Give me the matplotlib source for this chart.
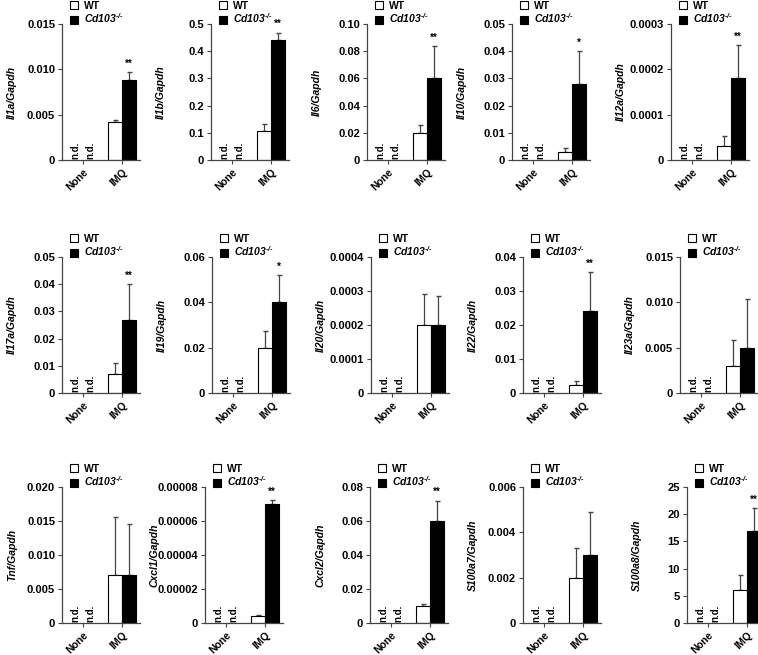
import numpy as np
import matplotlib.pyplot as plt
from matplotlib.patches import Patch

plt.rcParams['font.family'] = ['Liberation Sans', 'DejaVu Sans']
plt.rcParams['font.weight'] = 'bold'
plt.rcParams['mathtext.fontset'] = 'custom'
plt.rcParams['mathtext.it'] = 'Liberation Sans:italic:bold'
plt.rcParams['mathtext.rm'] = 'Liberation Sans:italic:bold'

# ----------------------------------------------------------------------
# data; None group is n.d. everywhere
# ----------------------------------------------------------------------

GENES = ['Il1a', 'Il1b', 'Il6', 'Il10', 'Il12a',
         'Il17a', 'Il19', 'Il20', 'Il22', 'Il23a',
         'Tnf', 'Cxcl1', 'Cxcl2', 'S100a7', 'S100a8']
GROUPS = ['None', 'IMQ']

WT_MEAN = [0.0042, 0.105, 0.020, 0.003, 0.00003,
           0.007, 0.020, 0.0002, 0.0025, 0.003,
           0.007, 0.000004, 0.010, 0.002, 6.0]
WT_ERR = [0.0002, 0.027, 0.006, 0.0015, 0.000023,
          0.004, 0.0075, 0.00009, 0.001, 0.0028,
          0.0086, 0.0000005, 0.001, 0.0013, 2.9]
KO_MEAN = [0.0088, 0.443, 0.060, 0.028, 0.00018,
           0.027, 0.040, 0.0002, 0.024, 0.005,
           0.007, 0.000070, 0.060, 0.003, 17.0]
KO_ERR = [0.0009, 0.025, 0.024, 0.012, 0.000073,
          0.013, 0.012, 0.000085, 0.0115, 0.0054,
          0.0076, 0.0000025, 0.012, 0.0019, 4.1]
STARS = ['**', '**', '**', '*', '**',
         '**', '*', '', '**', '',
         '', '**', '**', '', '**']

YTICKS = [
    ['0', '0.005', '0.010', '0.015'],
    ['0', '0.1', '0.2', '0.3', '0.4', '0.5'],
    ['0', '0.02', '0.04', '0.06', '0.08', '0.10'],
    ['0', '0.01', '0.02', '0.03', '0.04', '0.05'],
    ['0', '0.0001', '0.0002', '0.0003'],
    ['0', '0.01', '0.02', '0.03', '0.04', '0.05'],
    ['0', '0.02', '0.04', '0.06'],
    ['0', '0.0001', '0.0002', '0.0003', '0.0004'],
    ['0', '0.01', '0.02', '0.03', '0.04'],
    ['0', '0.005', '0.010', '0.015'],
    ['0', '0.005', '0.010', '0.015', '0.020'],
    ['0', '0.00002', '0.00004', '0.00006', '0.00008'],
    ['0', '0.02', '0.04', '0.06', '0.08'],
    ['0', '0.002', '0.004', '0.006'],
    ['0', '5', '10', '15', '20', '25'],
]

# ----------------------------------------------------------------------
# layout in pixels (figure is 758 x 655)
# ----------------------------------------------------------------------

W, H = 758, 655
ROW_BOTTOM = [160, 393, 623]
ROW_HEIGHT = 136
COL_LEFT = [[62, 211, 367, 512, 671],
            [62, 212, 371, 523, 680],
            [62, 205, 370, 523, 687]]
AX_W = 78

BAR_W = 0.35
EDGE = '#444444'

fig = plt.figure(figsize=(W / 100, H / 100), dpi=100)

for k, gene in enumerate(GENES):
    r, c = divmod(k, 5)
    left = COL_LEFT[r][c]
    ax = fig.add_axes([left / W, 1 - ROW_BOTTOM[r] / H, AX_W / W, ROW_HEIGHT / H])

    ticks = [float(t) for t in YTICKS[k]]
    ymax = ticks[-1]

    # IMQ bars
    ax.bar(1 - BAR_W / 2, WT_MEAN[k], BAR_W, color='white', edgecolor='black',
           linewidth=0.8, zorder=2)
    ax.bar(1 + BAR_W / 2, KO_MEAN[k], BAR_W, color='black', edgecolor='black',
           linewidth=0.8, zorder=2)
    ax.errorbar([1 - BAR_W / 2], [WT_MEAN[k]], yerr=[[0], [WT_ERR[k]]],
                fmt='none', ecolor=EDGE, elinewidth=0.9, capsize=1.8, zorder=1)
    ax.errorbar([1 + BAR_W / 2], [KO_MEAN[k]], yerr=[[0], [KO_ERR[k]]],
                fmt='none', ecolor=EDGE, elinewidth=0.9, capsize=1.8, zorder=1)

    if STARS[k]:
        ax.text(1 + BAR_W / 2, KO_MEAN[k] + KO_ERR[k] + ymax * 0.025, STARS[k],
                ha='center', va='bottom', fontsize=7, fontweight='bold')

    # n.d. labels for the None group
    for dx in (-0.19, 0.19):
        ax.text(0 + dx, ymax * 0.01, 'n.d.', rotation=90, ha='center',
                va='bottom', fontsize=7, fontweight='bold')

    ax.set_xlim(-0.52, 1.45)
    ax.set_ylim(0, ymax)
    ax.set_yticks(ticks)
    ax.set_yticklabels(YTICKS[k], fontsize=8, fontweight='bold')
    ax.set_xticks([0, 1])
    ax.set_xticklabels(GROUPS, rotation=45, ha='right', rotation_mode='anchor',
                       fontsize=7.5, fontweight='bold')

    for s in ('top', 'right'):
        ax.spines[s].set_visible(False)
    for s in ('left', 'bottom'):
        ax.spines[s].set_color(EDGE)
        ax.spines[s].set_linewidth(0.9)
    ax.tick_params(direction='out', length=3, width=0.8, color=EDGE, pad=2)

    ax.set_ylabel(gene + '/Gapdh', fontsize=7.5, fontweight='bold',
                  fontstyle='italic')
    ax.yaxis.set_label_coords(-45 / AX_W, 0.5)

    handles = [Patch(facecolor='white', edgecolor='black', linewidth=0.8),
               Patch(facecolor='black', edgecolor='black', linewidth=0.8)]
    ax.legend(handles, ['WT', r'$Cd103^{\text{-/-}}$'], loc='lower left',
              bbox_to_anchor=(0.1, 0.99), frameon=False, fontsize=7.5,
              handlelength=0.75, handleheight=0.75, handletextpad=0.6,
              labelspacing=0.1, borderpad=0, borderaxespad=0)

fig.savefig('out.png', dpi=100)
